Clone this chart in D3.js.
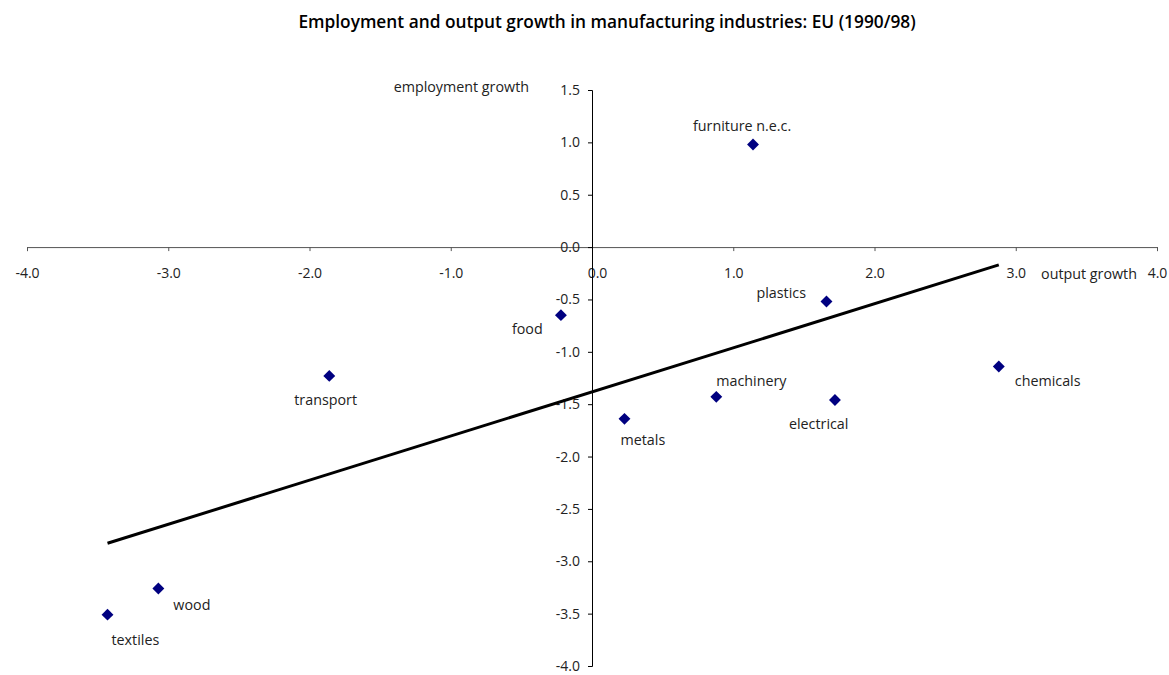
<!DOCTYPE html>
<html><head><meta charset="utf-8">
<script src="https://cdn.jsdelivr.net/npm/d3@7"></script>
<style>
body{margin:0;background:#fff;}
text{font-family:"Open Sans",Lato,sans-serif;}
</style></head>
<body><svg id="c" width="1169" height="675"></svg>
<script>
const industries = ["furniture n.e.c.","plastics","chemicals","electrical","machinery","metals","food","transport","wood","textiles"];
const outputGrowth = [1.14,1.66,2.88,1.72,0.88,0.23,-0.22,-1.86,-3.07,-3.43];
const employmentGrowth = [0.98,-0.52,-1.14,-1.46,-1.43,-1.64,-0.65,-1.23,-3.26,-3.51];
const xTicks = [-4,-3,-2,-1,0,1,2,3,4];
const yTicks = [1.5,1.0,0.5,0,-0.5,-1.0,-1.5,-2.0,-2.5,-3.0,-3.5,-4.0];
// label placement (layout, px offsets from marker)
const labelOffsets = [[-60,-13],[-70,-4],[16,20],[-46,29],[0,-11],[-4,26],[-49,19],[-35,29],[15,21],[4,30]];

const svg = d3.select("#c");
const x = d3.scaleLinear().domain([-4,4]).range([27,1157]);
const y = d3.scaleLinear().domain([-4,1.5]).range([666,90]);
const fmt = d => d.toFixed(1);

svg.append("text").attr("x",607).attr("y",28).attr("text-anchor","middle")
  .attr("font-size",17.3).attr("font-weight",600).attr("fill","#000")
  .text("Employment and output growth in manufacturing industries: EU (1990/98)");

// x axis
const xa = svg.append("g").attr("transform",`translate(0,${y(0)})`)
  .call(d3.axisBottom(x).tickValues(xTicks).tickSize(4).tickPadding(17).tickFormat(fmt));
xa.select(".domain").attr("stroke","#555");
xa.selectAll(".tick line").attr("stroke","#555");
xa.selectAll("text").attr("font-size",14).attr("fill","#222").attr("font-family","'Open Sans',sans-serif");
xa.selectAll(".tick").filter(d=>d===0).select("text").attr("dx",5);

// y axis
const ya = svg.append("g").attr("transform",`translate(${x(0)},0)`)
  .call(d3.axisLeft(y).tickValues(yTicks).tickSize(4).tickPadding(8).tickFormat(fmt));
ya.select(".domain").attr("stroke","#000");
ya.selectAll(".tick line").attr("stroke","#000");
ya.selectAll("text").attr("font-size",14).attr("fill","#222").attr("font-family","'Open Sans',sans-serif");

// axis titles
svg.append("text").attr("x",529).attr("y",92).attr("text-anchor","end").attr("font-size",14.3).attr("fill","#222").text("employment growth");
svg.append("text").attr("x",1137).attr("y",279).attr("text-anchor","end").attr("font-size",14.3).attr("fill","#222").text("output growth");

// regression line
const n = outputGrowth.length;
const mx = d3.mean(outputGrowth), my = d3.mean(employmentGrowth);
let sxy=0,sxx=0;
for(let i=0;i<n;i++){sxy+=(outputGrowth[i]-mx)*(employmentGrowth[i]-my);sxx+=(outputGrowth[i]-mx)**2;}
const slope = sxy/sxx, icpt = my - slope*mx;
const [x0,x1] = d3.extent(outputGrowth);
svg.append("line").attr("x1",x(x0)).attr("y1",y(icpt+slope*x0)).attr("x2",x(x1)).attr("y2",y(icpt+slope*x1))
  .attr("stroke","#000").attr("stroke-width",3);

// points
const sym = d3.symbol().type(d3.symbolDiamond2).size(90);
industries.forEach((name,i)=>{
  const px=x(outputGrowth[i]), py=y(employmentGrowth[i]);
  svg.append("path").attr("d",sym()).attr("transform",`translate(${px},${py})`).attr("fill","#000080");
  svg.append("text").attr("x",px+labelOffsets[i][0]).attr("y",py+labelOffsets[i][1])
    .attr("font-size",14.3).attr("fill","#222").text(name);
});
</script></body></html>
